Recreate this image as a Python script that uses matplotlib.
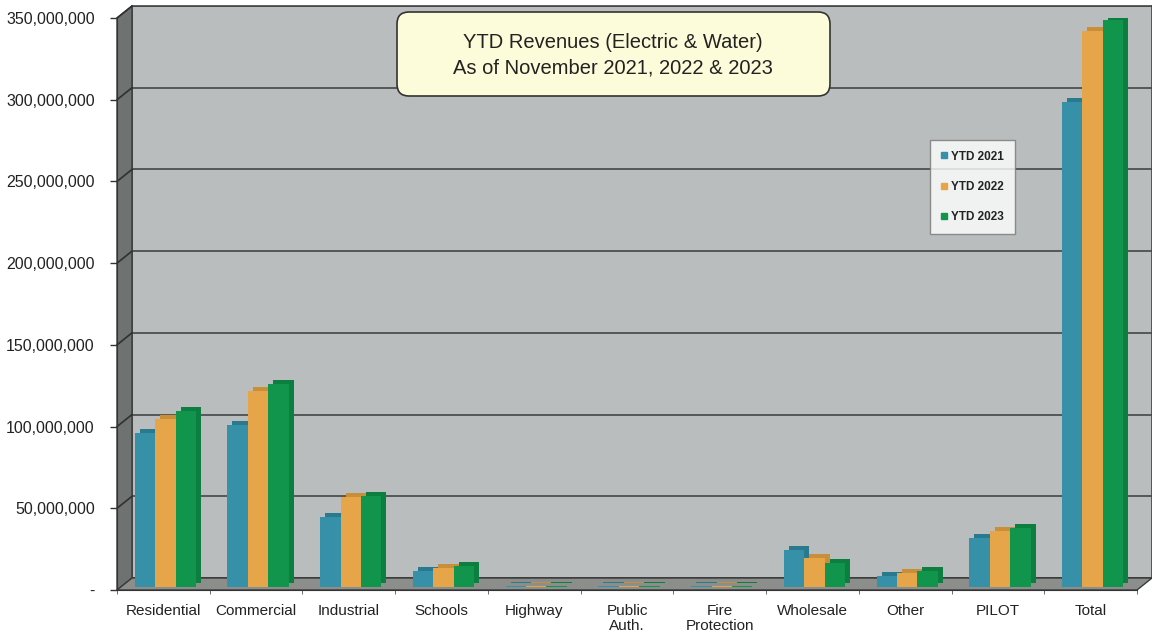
import matplotlib
matplotlib.use("Agg")
import matplotlib.pyplot as plt
import matplotlib.transforms as mtransforms
from matplotlib.patches import Polygon, FancyBboxPatch, ConnectionPatch
from matplotlib.lines import Line2D
import numpy as np

plt.rcParams['font.family'] = ['Liberation Sans', 'DejaVu Sans']

# dane
categories = ["Residential", "Commercial", "Industrial", "Schools", "Highway",
              "Public\nAuth.", "Fire\nProtection", "Wholesale", "Other", "PILOT", "Total"]
series_names = ["YTD 2021", "YTD 2022", "YTD 2023"]
ytd_2021 = [94.0e6, 99.0e6, 43.0e6, 10.0e6, 0.6e6, 0.5e6, 0.5e6, 22.5e6, 7.0e6, 30.0e6, 297.0e6]
ytd_2022 = [102.5e6, 120.0e6, 55.0e6, 11.5e6, 0.6e6, 0.5e6, 0.5e6, 17.5e6, 8.5e6, 34.0e6, 340.0e6]
ytd_2023 = [107.5e6, 124.5e6, 55.5e6, 13.0e6, 0.6e6, 0.5e6, 0.5e6, 14.5e6, 9.5e6, 36.0e6, 347.0e6]
y_ticks = [0, 50e6, 100e6, 150e6, 200e6, 250e6, 300e6, 350e6]
y_tick_labels = ["-", "50,000,000", "100,000,000", "150,000,000", "200,000,000",
                 "250,000,000", "300,000,000", "350,000,000"]
title_lines = ["YTD Revenues (Electric & Water)", "As of November 2021, 2022 & 2023"]

colors = ["#3590A8", "#E6A548", "#11944C"]
side_colors = ["#2A7A8F", "#C98E38", "#0C7E3F"]
WALL = "#B9BDBE"
SIDE = "#6E7270"
FLOOR = "#8C8E8C"

W, H = 1152, 641
fig = plt.figure(figsize=(W / 100, H / 100), dpi=100)
fig.patch.set_facecolor("white")

# transformacja w pikselach obrazka (y w dol)
pix = mtransforms.Affine2D().scale(1 / W, -1 / H).translate(0, 1) + fig.transFigure


def ax_rect(x0, x1, ytop, ybot):
    return [x0 / W, 1 - ybot / H, (x1 - x0) / W, (ybot - ytop) / H]


FX0, FX1, FY1, FY0 = 117, 1137, 18, 590
DX, DY = 15, 12
n = len(categories)
xlim = (-0.5, n - 0.5)
ylim = (0, 350e6)

# tylna sciana z liniami siatki
ax_back = fig.add_axes(ax_rect(FX0 + DX, FX1 + DX, FY1 - DY, FY0 - DY), zorder=0)
ax_back.set_facecolor(WALL)
ax_back.set_xlim(*xlim)
ax_back.set_ylim(*ylim)
ax_back.set_yticks(y_ticks)
ax_back.set_xticks([])
ax_back.tick_params(left=False, labelleft=False)
ax_back.yaxis.grid(True, color="#454545", linewidth=1.2)
for s in ax_back.spines.values():
    s.set_color("#444444")
    s.set_linewidth(1.2)

# sciana boczna i podloga
side = Polygon([(FX0, FY0), (FX0, FY1), (FX0 + DX, FY1 - DY), (FX0 + DX, FY0 - DY)],
               closed=True, facecolor=SIDE, edgecolor="#3a3a3a", linewidth=1,
               transform=pix, zorder=1)
floor = Polygon([(FX0, FY0), (FX1, FY0), (FX1 + DX, FY0 - DY), (FX0 + DX, FY0 - DY)],
                closed=True, facecolor=FLOOR, edgecolor="#3a3a3a", linewidth=1,
                transform=pix, zorder=1)
fig.add_artist(side)
fig.add_artist(floor)

# przednia plaszczyzna: slupki i osie
ax = fig.add_axes(ax_rect(FX0, FX1, FY1, FY0), zorder=2)
ax.set_facecolor("none")
ax.set_xlim(*xlim)
ax.set_ylim(*ylim)

for v in y_ticks[1:]:
    cp = ConnectionPatch(xyA=(xlim[0], v), coordsA=ax.transData,
                         xyB=(xlim[0], v), coordsB=ax_back.transData,
                         color="#303030", linewidth=1.2, zorder=1.5)
    fig.add_artist(cp)

bar_w = 0.22
offsets = [-bar_w, 0, bar_w]
# slupki "3D": przesunieta kopia daje bok i wierzch
depth = mtransforms.ScaledTranslation(5 / fig.dpi, 4 / fig.dpi, fig.dpi_scale_trans)
lift = mtransforms.ScaledTranslation(2 / fig.dpi, 3 / fig.dpi, fig.dpi_scale_trans)
x = np.arange(n)
all_series = [ytd_2021, ytd_2022, ytd_2023]
for i, vals in enumerate(all_series):
    ax.bar(x + offsets[i], vals, bar_w, color=side_colors[i], linewidth=0,
           transform=ax.transData + lift + depth, zorder=3 + 2 * i)
    ax.bar(x + offsets[i], vals, bar_w, color=colors[i], linewidth=0,
           transform=ax.transData + lift, zorder=4 + 2 * i, label=series_names[i])
ax.set_xlim(*xlim)
ax.set_ylim(*ylim)

ax.set_yticks(y_ticks)
ax.set_yticklabels(y_tick_labels, fontsize=11.5, color="#222222")
ax.tick_params(axis="y", length=5, width=1, color="#333333", pad=11)
ax.set_xticks(x)
ax.set_xticklabels(categories, fontsize=11, color="#222222", linespacing=1.1)
ax.tick_params(axis="x", length=0, pad=10)
ax.set_xticks(np.arange(n + 1) - 0.5, minor=True)
ax.tick_params(axis="x", which="minor", length=3, color="#555555")
for name in ["top", "right"]:
    ax.spines[name].set_visible(False)
ax.spines["left"].set_color("#333333")
ax.spines["bottom"].set_color("#333333")

# tytul w zaokraglonej ramce
box = FancyBboxPatch((397, 12), 433, 84, boxstyle="round,pad=0,rounding_size=12",
                     facecolor="#FCFCDA", edgecolor="#333333", linewidth=1.2,
                     transform=pix, zorder=5)
fig.add_artist(box)
fig.text(613 / W, 1 - 42 / H, title_lines[0], ha="center", va="center",
         fontsize=14.5, color="#222222", zorder=6)
fig.text(613 / W, 1 - 68 / H, title_lines[1], ha="center", va="center",
         fontsize=14.5, color="#222222", zorder=6)

# legenda
handles = [Line2D([], [], marker="s", linestyle="none", markersize=4.5,
                  markerfacecolor=c, markeredgecolor=c) for c in colors]
leg = fig.legend(handles, series_names, loc="upper left",
                 bbox_to_anchor=(930 / W, 1 - 140 / H), fontsize=8.5,
                 frameon=True, fancybox=False, handlelength=0.6, handletextpad=0.3,
                 labelspacing=1.55, borderpad=0.9, borderaxespad=0)
leg.get_frame().set_edgecolor("#777777")
leg.get_frame().set_linewidth(1)
leg.set_zorder(6)
for t in leg.get_texts():
    t.set_fontweight("bold")
    t.set_color("#222222")

fig.savefig("out.png", dpi=100)
